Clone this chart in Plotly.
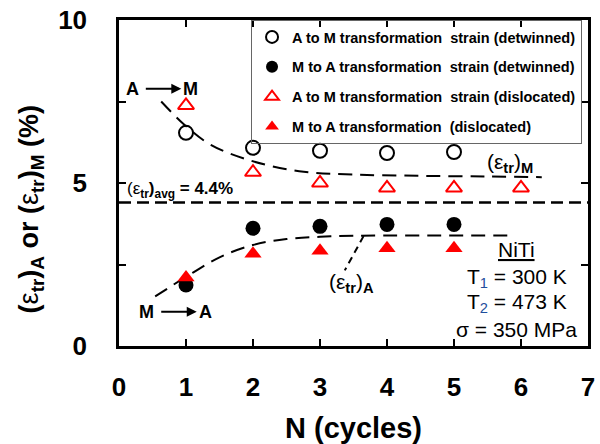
import plotly.graph_objects as go

# ---- data ----
cycles = [1, 2, 3, 4, 5]
cycles6 = [1, 2, 3, 4, 5, 6]
am_detwinned = [6.54, 6.08, 5.99, 5.92, 5.95]          # open circles
ma_detwinned = [1.87, 3.61, 3.67, 3.73, 3.73]          # filled circles
am_dislocated = [7.38, 5.33, 5.0, 4.85, 4.85, 4.85]    # open red triangles
ma_dislocated = [2.1, 2.83, 2.92, 3.0, 3.0]            # filled red triangles

fit_m_x = [0.63, 0.98, 1.37, 1.96, 2.69, 3.5, 4.5, 5.5, 6.31]
fit_m_y = [7.5, 6.78, 6.17, 5.69, 5.36, 5.26, 5.22, 5.2, 5.18]
fit_a_x = [0.54, 1.0, 1.5, 2.0, 2.5, 3.0, 3.5, 4.5, 5.8]
fit_a_y = [1.52, 2.12, 2.72, 3.1, 3.28, 3.35, 3.38, 3.39, 3.39]
avg_x = [0, 7]
avg_y = [4.4, 4.4]
leader_x = [3.65, 3.37]
leader_y = [3.37, 2.32]

xtick_vals = [0, 1, 2, 3, 4, 5, 6, 7]
ytick_vals = [0, 2.5, 5, 7.5, 10]
ytick_text = ["0", "", "5", "", "10"]

FONT = "Arial, Liberation Sans, sans-serif"
RED = "#FF0000"

fig = go.Figure()

# fit curves and average line
fig.add_trace(go.Scatter(x=fit_m_x, y=fit_m_y, mode="lines", showlegend=False,
                         line=dict(color="black", width=2, dash="14px,8px", shape="spline")))
fig.add_trace(go.Scatter(x=fit_a_x, y=fit_a_y, mode="lines", showlegend=False,
                         line=dict(color="black", width=2, dash="14px,8px", shape="spline")))
fig.add_trace(go.Scatter(x=avg_x, y=avg_y, mode="lines", showlegend=False,
                         line=dict(color="black", width=2.5, dash="12px,6px")))
fig.add_trace(go.Scatter(x=leader_x, y=leader_y, mode="lines", showlegend=False,
                         line=dict(color="black", width=2, dash="7px,5px")))

# data series
fig.add_trace(go.Scatter(x=cycles, y=am_detwinned, mode="markers",
                         name="A to M transformation  strain (detwinned)", legendgroup="g1",
                         marker=dict(symbol="circle-open", size=14, color="black", line=dict(width=2))))
fig.add_trace(go.Scatter(x=cycles, y=ma_detwinned, mode="markers",
                         name="M to A transformation  strain (detwinned)", legendgroup="g2",
                         marker=dict(symbol="circle", size=15, color="black")))
fig.add_trace(go.Scatter(x=cycles6, y=am_dislocated, mode="markers",
                         name="A to M transformation \u00a0strain (dislocated)", legendgroup="g3",
                         marker=dict(symbol="triangle-up-open", size=14, color=RED, line=dict(width=2))))
fig.add_trace(go.Scatter(x=cycles, y=ma_dislocated, mode="markers",
                         name="M to A transformation  (dislocated)", legendgroup="g4",
                         marker=dict(symbol="triangle-up", size=15, color=RED)))

axis_common = dict(showline=True, linecolor="black", linewidth=2.5, mirror="ticks",
                   ticks="inside", ticklen=7, tickwidth=2, tickcolor="black",
                   showgrid=False, zeroline=False,
                   tickfont=dict(family=FONT, size=26, color="black", weight="bold"))

fig.update_xaxes(range=[0, 7], tickvals=xtick_vals, ticklabelstandoff=16,
                 title=dict(text="<b>N (cycles)</b>", font=dict(family=FONT, size=29, color="black"),
                            standoff=17),
                 **axis_common)
fig.update_yaxes(range=[0, 10], tickvals=ytick_vals, ticktext=ytick_text, ticklabelstandoff=24,
                 **axis_common)

ann = []
def txt(x, y, text, size, xanchor="center", yanchor="middle", xref="x", yref="y", angle=0):
    ann.append(dict(x=x, y=y, xref=xref, yref=yref, text=text, showarrow=False,
                    xanchor=xanchor, yanchor=yanchor, textangle=angle,
                    font=dict(family=FONT, size=size, color="black")))

# y-axis title
txt(-0.187, 0.42, "<b>(</b>ε<b><sub>tr</sub>)<sub>A</sub> or (</b>ε<b><sub>tr</sub>)<sub>M</sub> (%)</b>", 27,
    xref="paper", yref="paper", angle=-90)

# A -> M
txt(0.206, 7.89, "<b>A</b>", 18)
txt(1.07, 7.89, "<b>M</b>", 18)
ann.append(dict(x=0.93, y=7.89, ax=-37, ay=0, xref="x", yref="y", text="", showarrow=True,
                arrowhead=2, arrowsize=1, arrowwidth=2, arrowcolor="black"))
# M -> A
txt(0.41, 1.05, "<b>M</b>", 18)
txt(1.29, 1.05, "<b>A</b>", 18)
ann.append(dict(x=1.16, y=1.05, ax=-37, ay=0, xref="x", yref="y", text="", showarrow=True,
                arrowhead=2, arrowsize=1, arrowwidth=2, arrowcolor="black"))

# average label
txt(0.09, 4.79, "(ε<b><sub>tr</sub>)<sub>avg</sub> = 4.4%</b>", 17, xanchor="left")
# curve labels
txt(5.46, 5.6, "(ε<b><sub>tr</sub></b>)<b><sub>M</sub></b>", 21, xanchor="left")
txt(3.1, 1.93, "(ε<b><sub>tr</sub></b>)<b><sub>A</sub></b>", 21, xanchor="left")

# NiTi block
txt(5.94, 2.95, "<u>NiTi</u>", 21)
txt(5.94, 2.09, "T<sub><span style='color:#1F4E9C'>1</span></sub> = 300 K", 21)
txt(5.94, 1.32, "T<sub><span style='color:#1F4E9C'>2</span></sub> = 473 K", 21)
txt(5.94, 0.5, "σ = 350 MPa", 21)

fig.update_layout(
    width=600, height=444,
    margin=dict(l=119, r=5, t=15, b=97),
    paper_bgcolor="white", plot_bgcolor="white",
    font=dict(family=FONT, color="black"),
    annotations=ann,
    legend=dict(x=0.2815, y=1, xanchor="left", yanchor="top",
                bgcolor="rgba(0,0,0,0)", bordercolor="#666", borderwidth=1,
                font=dict(family=FONT, size=14.5, color="black", weight="bold"),
                tracegroupgap=8, itemsizing="constant"),
)

fig.write_html("out.html")
